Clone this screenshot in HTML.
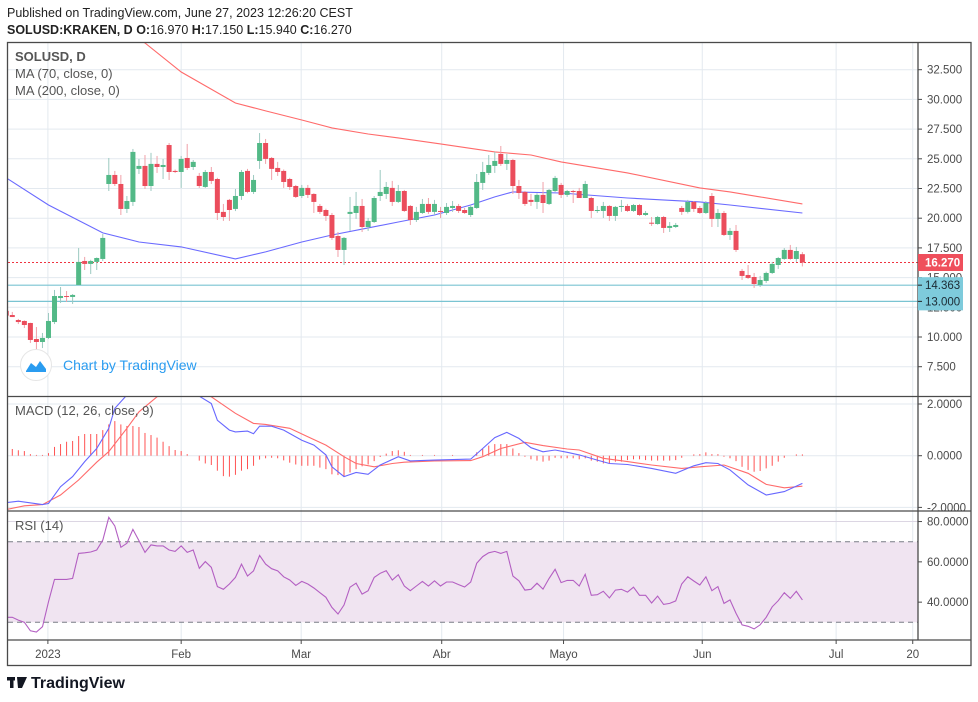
<!DOCTYPE html>
<html><head><meta charset="utf-8">
<style>
html,body{margin:0;padding:0;background:#fff;}
svg{display:block;font-family:"Liberation Sans",sans-serif;}
</style></head>
<body>
<svg id="chart" width="978" height="702" viewBox="0 0 978 702" xmlns="http://www.w3.org/2000/svg">
<defs>
<clipPath id="cpMain"><rect x="8" y="43" width="910" height="353"/></clipPath>
<clipPath id="cpMacd"><rect x="8" y="397" width="910" height="113"/></clipPath>
<clipPath id="cpRsi"><rect x="8" y="511" width="910" height="128"/></clipPath>
</defs>
<text x="7" y="17" font-size="12.5" fill="#222">Published on TradingView.com, June 27, 2023 12:26:20 CEST</text>
<text x="7" y="34" font-size="12.5" fill="#222"><tspan font-weight="bold">SOLUSD:KRAKEN, D</tspan> <tspan font-weight="bold">O:</tspan>16.970 <tspan font-weight="bold">H:</tspan>17.150 <tspan font-weight="bold">L:</tspan>15.940 <tspan font-weight="bold">C:</tspan>16.270</text>
<g id="grid"></g>
<rect x="8" y="541.7" width="910" height="80.6" fill="#f0e4f1"/>
<g id="main" clip-path="url(#cpMain)"></g>
<g id="macd" clip-path="url(#cpMacd)"></g>
<g id="rsi" clip-path="url(#cpRsi)"></g>
<g id="frame" fill="none" stroke="#4a4a4a" stroke-width="1.3">
<rect x="7.5" y="42.5" width="963.5" height="623"/>
<line x1="918" y1="42.5" x2="918" y2="640"/>
<line x1="7.5" y1="396.5" x2="971" y2="396.5"/>
<line x1="7.5" y1="511" x2="971" y2="511"/>
<line x1="7.5" y1="640" x2="971" y2="640"/>
</g>
<g id="axes"></g>
<g font-size="13" fill="#555">
<text x="15" y="61" font-weight="bold" fill="#555">SOLUSD, D</text>
<text x="15" y="78">MA (70, close, 0)</text>
<text x="15" y="95">MA (200, close, 0)</text>
</g>
<g>
<circle cx="36" cy="365" r="15.5" fill="#fff" stroke="#e6e6e6"/>
<path d="M26 371 L31 363 L36 367 L40 361 L46 369 L46 372 L26 372Z" fill="#2a9cf0"/>
<text x="63" y="370" font-size="14" fill="#2a9cf0">Chart by TradingView</text>
</g>
<text x="15" y="415" font-size="13" fill="#555">MACD (12, 26, close, 9)</text>
<text x="15" y="530" font-size="13" fill="#555">RSI (14)</text>
<g>
<rect x="7" y="677" width="8" height="3.5" fill="#131722"/><rect x="10" y="677" width="3.5" height="11" fill="#131722"/>
<path d="M17 677 L27 677 L22 688 L18 688 Z" fill="#131722"/>
<text x="31" y="688" font-size="16" font-weight="bold" fill="#131722">TradingView</text>
</g>
</svg>
<script>
// ---- data ----
const opens=[12.2,11.85,11.43,11.35,11.18,9.83,9.58,9.92,11.26,13.28,13.45,13.37,14.38,16.40,16.15,16.32,16.57,22.88,23.64,22.88,20.78,21.37,24.15,24.40,22.71,24.57,24.31,26.16,23.98,23.89,25.07,24.31,23.56,22.63,23.89,23.30,20.53,21.54,20.78,21.87,23.98,22.21,24.82,26.33,25.07,24.23,23.98,23.30,22.71,21.87,22.55,22.04,21.03,20.69,20.27,18.50,17.33,20.36,20.44,21.03,19.26,19.68,21.87,22.04,22.55,21.37,22.29,21.03,19.85,20.44,21.20,20.53,20.61,20.44,20.86,21.03,20.69,20.27,20.86,22.97,23.81,24.40,25.41,24.57,24.90,22.71,22.21,21.54,21.37,21.96,21.20,22.29,22.80,21.96,22.29,22.29,21.70,21.70,20.61,20.61,21.03,20.19,20.95,21.03,20.61,21.11,20.27,19.62,19.51,20.10,19.18,19.26,20.86,20.53,21.37,20.86,20.44,21.87,19.94,20.44,18.59,18.93,15.56,15.22,15.05,14.38,14.72,15.39,16.06,16.57,17.33,16.57,16.97];
const highs=[12.3,12.11,11.52,11.4,11.2,10.84,10.34,12.02,13.96,14.21,13.87,13.62,17.49,16.74,16.5,16.7,18.67,25.07,23.98,23.64,21.87,25.83,24.99,25.32,25.5,25.24,24.99,26.33,24.1,25.24,26.25,24.9,23.81,24.06,24.31,23.4,21.20,21.62,22.46,24.06,24.15,23.64,27.17,26.67,25.15,24.74,24.1,23.4,22.80,22.80,22.80,22.1,21.20,20.8,20.44,18.84,18.42,21.79,22.21,21.62,20.02,21.87,24.06,23.05,23.14,22.80,22.38,21.11,20.95,21.62,21.70,21.54,20.95,21.28,21.45,21.20,20.86,21.11,23.72,24.74,25.32,25.58,26.08,25.41,25.0,23.22,22.3,22.04,22.1,23.05,22.46,23.56,22.97,22.38,22.38,22.55,23.14,21.8,21.03,21.37,21.1,21.03,21.54,21.20,21.20,21.2,20.61,20.10,20.19,20.19,19.68,19.60,21.03,21.54,21.45,21.03,21.45,22.12,20.78,20.61,19.18,19.43,15.73,16.06,15.39,15.14,15.5,16.32,16.74,17.49,17.75,17.58,17.15];
const lows=[11.75,11.68,11.09,10.76,9.5,8.91,9.07,9.83,11.09,12.86,12.95,12.78,14.38,15.64,15.3,15.64,16.40,22.29,22.71,20.27,20.44,21.03,23.72,22.46,22.29,23.81,23.30,23.22,23.8,22.55,24.06,24.06,22.55,22.55,22.88,19.85,19.77,19.77,20.6,21.54,22.1,22.04,24.15,24.57,23.22,23.56,22.55,22.38,21.70,21.70,21.70,20.44,20.36,19.77,18.17,16.74,16.06,18.93,19.94,18.84,18.93,19.60,21.45,21.62,21.03,21.28,20.53,19.43,19.68,20.36,20.36,20.27,20.02,20.27,20.53,20.44,20.36,20.10,20.78,22.38,23.64,23.81,24.40,24.06,22.04,21.62,21.03,21.03,20.78,20.44,21.11,22.2,21.70,21.79,21.28,21.70,21.70,20.02,20.44,20.02,19.77,19.77,20.53,20.53,20.53,20.19,20.19,19.35,19.45,18.76,18.84,19.18,20.27,20.4,20.53,20.36,20.36,19.26,19.26,18.5,18.17,17.16,14.80,14.88,14.13,14.21,14.55,15.3,15.73,16.5,16.5,16.32,15.94];
const closes=[11.8,11.68,11.26,11.01,9.75,9.58,9.92,11.35,13.45,13.45,13.37,13.54,16.32,16.15,16.40,16.65,18.34,23.64,22.88,20.78,21.45,25.58,24.40,22.71,24.57,24.31,24.48,23.89,23.89,24.99,24.23,24.74,22.71,23.89,23.14,20.44,20.10,20.69,21.87,23.89,22.21,23.22,26.33,24.99,24.15,23.89,23.05,22.63,21.79,22.55,21.96,21.37,20.53,20.19,18.34,17.33,18.34,20.53,21.03,19.26,19.77,21.70,22.21,22.63,21.37,22.29,20.61,19.85,20.53,21.20,20.53,21.20,20.53,20.95,21.03,20.61,20.44,20.95,23.05,23.89,24.48,24.82,24.57,24.90,22.71,22.12,21.20,21.37,21.96,21.28,22.38,23.39,21.96,22.29,22.21,21.70,22.88,20.61,20.69,21.03,20.19,20.95,21.03,20.61,21.11,20.27,20.44,19.58,20.10,19.18,19.35,19.43,20.53,21.37,20.78,20.44,21.28,19.94,20.44,18.59,18.93,17.33,15.14,14.97,14.46,14.80,15.39,16.15,16.65,17.33,16.57,17.24,16.27];
const firstIndex=-1;
const ma70Idx=[-1,6,15,21,28,37,42,48,53,59,64,70,76,80,83,91,102,114,119,131];
const ma70Val=[23.39,21.11,18.76,18.00,17.58,16.57,17.16,18.00,18.59,19.18,19.68,20.27,21.11,21.79,22.21,22.12,21.70,21.37,21.11,20.44];
const ma200Idx=[20,22,28,37,42,48,53,59,64,71,80,86,91,102,114,119,124,131];
const ma200Val=[35.4,34.75,32.31,29.70,29.03,28.27,27.60,27.09,26.76,26.25,25.58,25.32,24.74,23.81,22.55,22.21,21.79,21.20];
const macdHist=[0.28,0.26,0.21,0.18,0.06,0.03,0.03,0.1,0.34,0.45,0.54,0.57,0.76,0.84,0.84,0.84,0.99,1.21,1.34,1.21,1.15,1.15,1.11,0.88,0.80,0.70,0.54,0.37,0.22,0.18,0.06,0,-0.19,-0.30,-0.36,-0.58,-0.79,-0.81,-0.74,-0.58,-0.52,-0.39,-0.15,-0.10,-0.08,-0.10,-0.18,-0.27,-0.34,-0.39,-0.39,-0.39,-0.46,-0.52,-0.72,-0.75,-0.79,-0.65,-0.52,-0.41,-0.34,-0.21,-0.05,0.08,0.18,0.21,0.15,0.03,0,0.03,0,0.03,0,0,0.03,0,0,0,0.13,0.26,0.39,0.45,0.45,0.45,0.28,0.10,-0.04,-0.14,-0.19,-0.23,-0.19,-0.08,-0.10,-0.10,-0.10,-0.14,-0.10,-0.19,-0.23,-0.30,-0.30,-0.23,-0.23,-0.17,-0.14,-0.14,-0.17,-0.19,-0.19,-0.19,-0.19,-0.17,-0.08,0,0.05,0.06,0.13,0.06,0.06,-0.04,-0.10,-0.21,-0.43,-0.55,-0.62,-0.59,-0.49,-0.39,-0.23,-0.08,0,0.05,0.05];
const macdIdx=[-1,1,5,6,8,10,12,14,16,17,19,22,26,29,31,33,34,36,37,39,40,41,43,45,48,50,52,53,55,57,59,61,64,66,70,76,78,80,82,84,86,88,90,92,94,97,99,102,106,110,113,115,117,119,122,125,128,131];
const macdVal=[-1.82,-1.76,-1.89,-1.85,-1.2,-0.81,-0.23,0.28,1.06,1.83,2.35,2.9,3.1,2.8,2.3,2.02,1.37,0.99,0.92,0.95,0.85,1.14,1.14,0.99,0.6,0.41,0.03,-0.43,-0.81,-0.65,-0.72,-0.36,-0.04,-0.2,-0.17,-0.13,0.28,0.7,0.9,0.67,0.31,0.15,0.22,0.13,0.03,-0.17,-0.30,-0.34,-0.49,-0.68,-0.39,-0.27,-0.30,-0.55,-1.13,-1.52,-1.39,-1.07];
const signalIdx=[-1,2,5,8,11,14,16,19,21,24,27,30,33,37,40,42,46,49,52,55,57,60,63,65,70,76,78,81,85,88,92,94,98,102,106,111,114,118,122,125,128,131];
const signalVal=[-2.08,-1.94,-1.89,-1.52,-0.94,-0.25,0.16,1.06,1.70,2.28,2.6,2.6,2.28,1.64,1.25,1.21,1.06,0.73,0.41,-0.04,-0.30,-0.43,-0.30,-0.25,-0.20,-0.19,-0.04,0.28,0.52,0.39,0.26,0.22,-0.10,-0.23,-0.36,-0.49,-0.43,-0.36,-0.68,-1.11,-1.24,-1.18];
const rsiVal=[32.5,32.5,31.1,30.0,25.8,25.2,27.8,40.2,51.3,51.3,51.3,51.8,64.2,64.5,64.9,65.9,70.8,82.1,77.8,67.2,69.2,76.1,70.5,64.7,68.4,67.9,67.9,65.9,65.2,67.9,64.7,65.9,56.8,60.1,57.3,47.7,46.4,49.0,52.3,58.9,53.0,55.5,63.2,58.9,56.6,55.5,52.6,51.0,48.3,50.3,49.0,47.0,44.7,42.4,37.4,34.1,38.6,47.4,49.4,44.0,45.7,52.3,54.3,55.6,51.0,53.6,48.0,45.7,48.0,50.3,48.0,50.6,48.0,50.0,50.0,48.7,47.5,50.0,59.3,62.6,64.5,65.2,64.2,65.2,53.0,50.6,46.0,46.4,49.4,46.5,51.8,56.3,49.7,50.8,50.8,48.0,53.8,43.4,43.7,45.4,42.1,46.0,46.4,45.0,47.4,43.4,43.4,39.6,43.0,38.9,39.4,40.6,49.0,52.6,50.5,48.5,52.6,45.7,47.7,39.4,41.1,34.5,28.7,28.0,26.7,28.7,32.5,37.7,40.7,44.7,41.9,45.4,41.1];
const priceTicks=[32.5,30,27.5,25,22.5,20,17.5,15,12.5,10,7.5];
const macdTicks=[2,0,-2];
const rsiTicks=[80,60,40];
const timeLabels=["2023","Feb","Mar","Abr","Mayo","Jun","Jul","20"];
const timeLabelIdx=[5.9,28,47.9,71.2,91.4,114.4,136.6,149.3];
const lastPrice=16.27, line1=14.363, line2=13.0;

// ---- scales ----
const NS="http://www.w3.org/2000/svg";
const xK=k=>12.3+6.031*k;
const yP=p=>337-(p-10)*11.88;
const yM=v=>455.7-v*25.85;
const yR=v=>541.7+(70-v)*2.015;
function mk(tag,attrs,parent){const e=document.createElementNS(NS,tag);for(const a in attrs)e.setAttribute(a,attrs[a]);parent.appendChild(e);return e;}
const gMain=document.getElementById('main'),gMacd=document.getElementById('macd'),gRsi=document.getElementById('rsi'),gGrid=document.getElementById('grid'),gAx=document.getElementById('axes');

// grid
timeLabelIdx.forEach(k=>{const l=mk('line',{x1:xK(k),x2:xK(k),y1:43,y2:640,stroke:'#e3e9ef','stroke-width':1},gGrid);

});
priceTicks.forEach(p=>{const l=mk('line',{x1:8,x2:918,y1:yP(p),y2:yP(p),stroke:'#e3e9ef'},gGrid);

});
macdTicks.forEach(v=>{const l=mk('line',{x1:8,x2:918,y1:yM(v),y2:yM(v),stroke:'#e3e9ef'},gGrid);

});
rsiTicks.forEach(v=>{const l=mk('line',{x1:8,x2:918,y1:yR(v),y2:yR(v),stroke:'#dcd6e3'},gGrid);

});

// MA lines
function poly(idx,val,ys,color,parent,name){const pts=idx.map((k,i)=>xK(k).toFixed(1)+','+ys(val[i]).toFixed(1)).join(' ');
const e=mk('polyline',{points:pts,fill:'none',stroke:color,'stroke-width':1.1},parent);

return e;}
poly(ma200Idx,ma200Val,yP,'#ff6a6a',gMain,'ma-200-line');
poly(ma70Idx,ma70Val,yP,'#6a6aff',gMain,'ma-70-line');

// horizontal lines
[line1,line2].forEach(p=>{const l=mk('line',{x1:8,x2:918,y1:yP(p),y2:yP(p),stroke:'#7ac4d2','stroke-width':1.2},gMain);

});
const lp=mk('line',{x1:8,x2:918,y1:yP(lastPrice),y2:yP(lastPrice),stroke:'#ef3340','stroke-width':1,'stroke-dasharray':'2,2'},gMain);



// candles
opens.forEach((o,i)=>{const k=i+firstIndex,x=xK(k),c=closes[i],up=c>=o,col=up?'#53b987':'#eb4d5c',wcol=up?'#9bc9c0':'#f0a0a8';
const w=mk('line',{x1:x,x2:x,y1:yP(highs[i]),y2:yP(lows[i]),stroke:wcol,'stroke-width':1},gMain);


const yt=yP(Math.max(o,c)),yb=yP(Math.min(o,c));
const b=mk('rect',{x:x-2.5,y:yt,width:5,height:Math.max(1,yb-yt),fill:col},gMain);

});

// MACD
macdHist.forEach((v,i)=>{const x=xK(i+firstIndex);
const h=mk('line',{x1:x,x2:x,y1:yM(0),y2:yM(v),stroke:'#ff5252','stroke-width':1},gMacd);

});
poly(signalIdx,signalVal,yM,'#ff6b6b',gMacd,'macd-signal-line');
poly(macdIdx,macdVal,yM,'#6767ff',gMacd,'macd-line');

// RSI
[70,30].forEach(v=>{const l=mk('line',{x1:8,x2:918,y1:yR(v),y2:yR(v),stroke:'#787b86','stroke-dasharray':'5,4'},gRsi);

});
const rsiPts=rsiVal.map((v,i)=>xK(i+firstIndex).toFixed(1)+','+yR(v).toFixed(1)).join(' ');
const rl=mk('polyline',{points:rsiPts,fill:'none',stroke:'#b35fc2','stroke-width':1.1},gRsi);



// axes labels
function lab(txt,x,y,name,extra){const t=mk('text',Object.assign({x:x,y:y,'font-size':11.5,fill:'#4a4a4a'},extra||{}),gAx);t.textContent=txt;

return t;}
priceTicks.forEach(p=>{mk('line',{x1:918,x2:922,y1:yP(p),y2:yP(p),stroke:'#4a4a4a'},gAx);lab(p.toFixed(3),927,yP(p)+4,'price-tick-label');});
macdTicks.forEach(v=>{mk('line',{x1:918,x2:922,y1:yM(v),y2:yM(v),stroke:'#4a4a4a'},gAx);lab(v.toFixed(4),927,yM(v)+4,'macd-tick-label');});
rsiTicks.forEach(v=>{mk('line',{x1:918,x2:922,y1:yR(v),y2:yR(v),stroke:'#4a4a4a'},gAx);lab(v.toFixed(4),927,yR(v)+4,'rsi-tick-label');});
timeLabels.forEach((s,i)=>{const x=xK(timeLabelIdx[i]);mk('line',{x1:x,x2:x,y1:640,y2:644,stroke:'#4a4a4a'},gAx);lab(s,x,658,'time-tick-label',{'text-anchor':'middle'});});
// price badges
const cb=mk('rect',{x:918,y:yP(line1)-8,width:45,height:yP(line2)-yP(line1)+17,fill:'#7ecbdc'},gAx);


[line1,line2].forEach(p=>{mk('line',{x1:918,x2:922,y1:yP(p),y2:yP(p),stroke:'#222'},gAx);lab(p.toFixed(3),925,yP(p)+4,'level-badge-label',{fill:'#1b2a33'});});
const rb=mk('rect',{x:918,y:yP(lastPrice)-8.5,width:45,height:17,fill:'#ef4f5c'},gAx);


lab(lastPrice.toFixed(3),925,yP(lastPrice)+4,'last-price-label',{fill:'#fff','font-weight':'bold'});
</script>
</body></html>
